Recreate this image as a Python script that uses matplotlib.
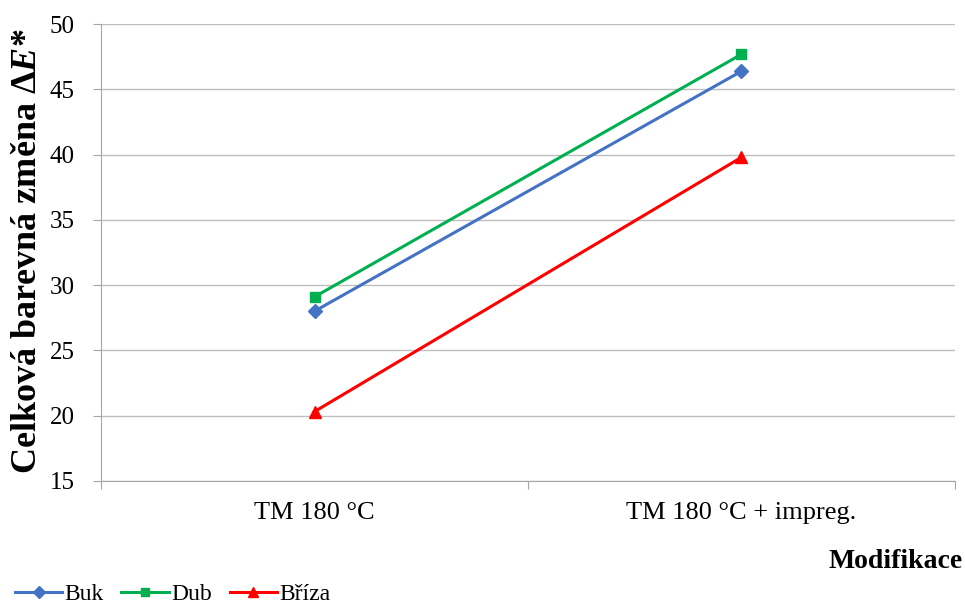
import numpy as np
import matplotlib
matplotlib.use('Agg')
import matplotlib.pyplot as plt

# 字体：Times 风格
plt.rcParams['font.family'] = ['Liberation Serif', 'DejaVu Serif']
plt.rcParams['mathtext.fontset'] = 'custom'
plt.rcParams['mathtext.it'] = 'Liberation Serif:italic:bold'
plt.rcParams['mathtext.rm'] = 'Liberation Serif:bold'

# 数据
categories = ['TM 180 °C', 'TM 180 °C + impreg.']
buk = [28.0, 46.4]
dub = [29.1, 47.7]
briza = [20.3, 39.8]
yticks = [15, 20, 25, 30, 35, 40, 45, 50]

fig = plt.figure(figsize=(9.65, 6.04), dpi=100)
ax = fig.add_axes([0.1047, 0.2041, 0.8849, 0.7557])

x = np.arange(len(categories)) + 0.5
ax.plot(x, buk, color='#4472C4', lw=2.2, marker='D', ms=7, label='Buk')
ax.plot(x, dub, color='#00B050', lw=2.2, marker='s', ms=7, label='Dub')
ax.plot(x, briza, color='#FF0000', lw=2.2, marker='^', ms=9, label='Bříza')

# 坐标轴范围和网格
ax.set_xlim(0, 2)
ax.set_ylim(15, 50)
ax.set_yticks(yticks)
ax.yaxis.grid(True, color='#BFBFBF', lw=1)
ax.set_axisbelow(True)

ax.set_xticks([0, 1, 2], minor=False)
ax.set_xticklabels([])
ax.set_xticks(x, minor=True)
ax.set_xticklabels(categories, minor=True, fontsize=19)
ax.tick_params(axis='x', which='minor', length=0, pad=15)
ax.tick_params(axis='x', which='major', length=6, color='#A6A6A6', direction='out')
ax.tick_params(axis='y', length=6, color='#A6A6A6', labelsize=18, pad=13)

for s in ['top', 'right']:
    ax.spines[s].set_visible(False)
ax.spines['left'].set_color('#A6A6A6')
ax.spines['bottom'].set_color('#A6A6A6')

# 轴标签
fig.text(0.029, 1 - 251 / 604, 'Celková barevná změna $\\mathit{\\Delta E}$*',
         fontsize=26, fontweight='bold', rotation=90, ha='center', va='center')
fig.text(0.998, 0.071, 'Modifikace', fontsize=20, fontweight='bold',
         ha='right', va='center')

# 图例
fig.legend(loc='center left', bbox_to_anchor=(0.0155, 0.016), ncol=3, frameon=False,
           fontsize=17, handlelength=2.0, handletextpad=0.1, columnspacing=0.75,
           borderpad=0, borderaxespad=0, markerscale=0.85)

plt.savefig('out.png', dpi=100)
